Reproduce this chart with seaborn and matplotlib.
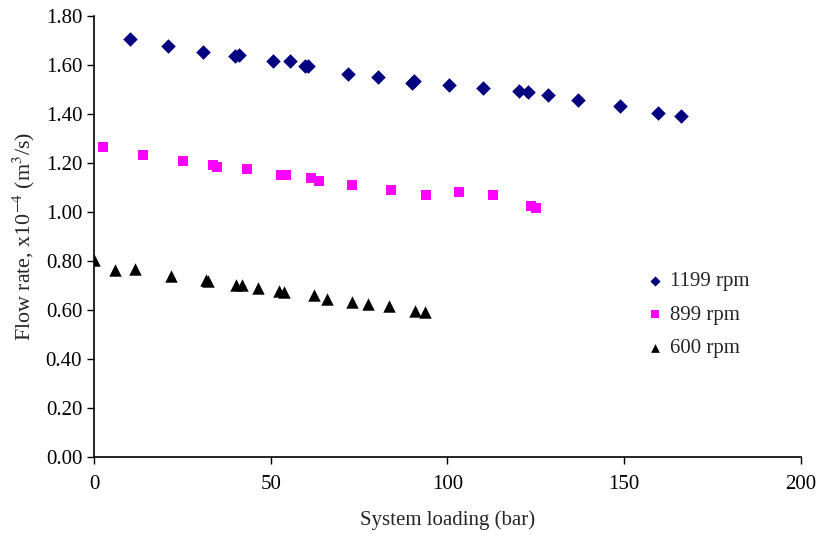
import matplotlib
matplotlib.use("Agg")
import matplotlib.pyplot as plt
import seaborn as sns
import pandas as pd

# System loading (bar) and flow rate (x10^-4 m^3/s) for each pump speed
load_1199 = [10.2, 21.0, 30.9, 40.0, 41.1, 50.7, 55.4, 59.8, 60.6, 71.9, 80.4,
             90.0, 90.6, 100.3, 110.1, 120.1, 122.9, 128.3, 136.8, 148.9,
             159.6, 166.2]
flow_1199 = [1.705, 1.677, 1.653, 1.637, 1.640, 1.618, 1.618, 1.596, 1.596,
             1.563, 1.550, 1.528, 1.533, 1.520, 1.507, 1.495, 1.490, 1.479,
             1.457, 1.433, 1.405, 1.392]

load_899 = [2.6, 13.9, 25.2, 33.6, 34.8, 43.3, 53.0, 54.4, 61.3, 63.7, 73.1,
            83.9, 93.8, 103.2, 112.9, 123.5, 125.1]
flow_899 = [1.267, 1.231, 1.209, 1.192, 1.185, 1.174, 1.151, 1.151, 1.139,
            1.128, 1.110, 1.090, 1.071, 1.082, 1.071, 1.024, 1.018]

load_600 = [0.0, 5.8, 11.6, 21.8, 31.8, 32.3, 40.3, 41.9, 46.4, 52.4, 53.7,
            62.2, 66.0, 73.0, 77.6, 83.5, 90.8, 93.6]
flow_600 = [0.804, 0.762, 0.766, 0.740, 0.721, 0.717, 0.701, 0.702, 0.690,
            0.678, 0.672, 0.661, 0.644, 0.634, 0.624, 0.615, 0.597, 0.593]

series = [
    ("1199 rpm", load_1199, flow_1199, "#000080", "D", 55),
    ("899 rpm", load_899, flow_899, "#FF00FF", "s", 60),
    ("600 rpm", load_600, flow_600, "#000000", "^", 80),
]

sns.set_style("ticks")
plt.rcParams["font.family"] = ["Liberation Serif", "DejaVu Serif"]
plt.rcParams["mathtext.fontset"] = "stix"

fig = plt.figure(figsize=(8.22, 5.38), dpi=100)
ax = fig.add_axes([0.1144, 0.1506, 0.8600, 0.8197])

for label, xs, ys, color, marker, size in series:
    df = pd.DataFrame({"load": xs, "flow": ys})
    sns.scatterplot(data=df, x="load", y="flow", color=color, marker=marker,
                    s=size, linewidth=0, ax=ax, label=label)

ax.set_xlim(0, 200)
ax.set_ylim(0, 1.80)
ax.set_xticks([0, 50, 100, 150, 200])
ax.set_yticks([i * 0.2 for i in range(10)])
ax.set_yticklabels([f"{i * 0.2:.2f}" for i in range(10)])
ax.tick_params(axis="both", direction="out", length=5, width=1,
               labelsize=15, colors="black")
ax.tick_params(axis="x", pad=8)
for side in ("top", "right"):
    ax.spines[side].set_visible(False)
for side in ("left", "bottom"):
    ax.spines[side].set_linewidth(1.2)
    ax.spines[side].set_color("black")

ax.set_xlabel("System loading (bar)", fontsize=15, labelpad=12)
ax.set_ylabel(r"Flow rate, x10$^{-4}$ (m$^3$/s)", fontsize=15.8, labelpad=6)

leg = ax.legend(loc="center left", bbox_to_anchor=(0.752, 0.322),
                frameon=False, fontsize=15, handlelength=1.0,
                handletextpad=0.25, labelspacing=0.66, markerscale=0.7)

fig.savefig("out.png", dpi=100)
